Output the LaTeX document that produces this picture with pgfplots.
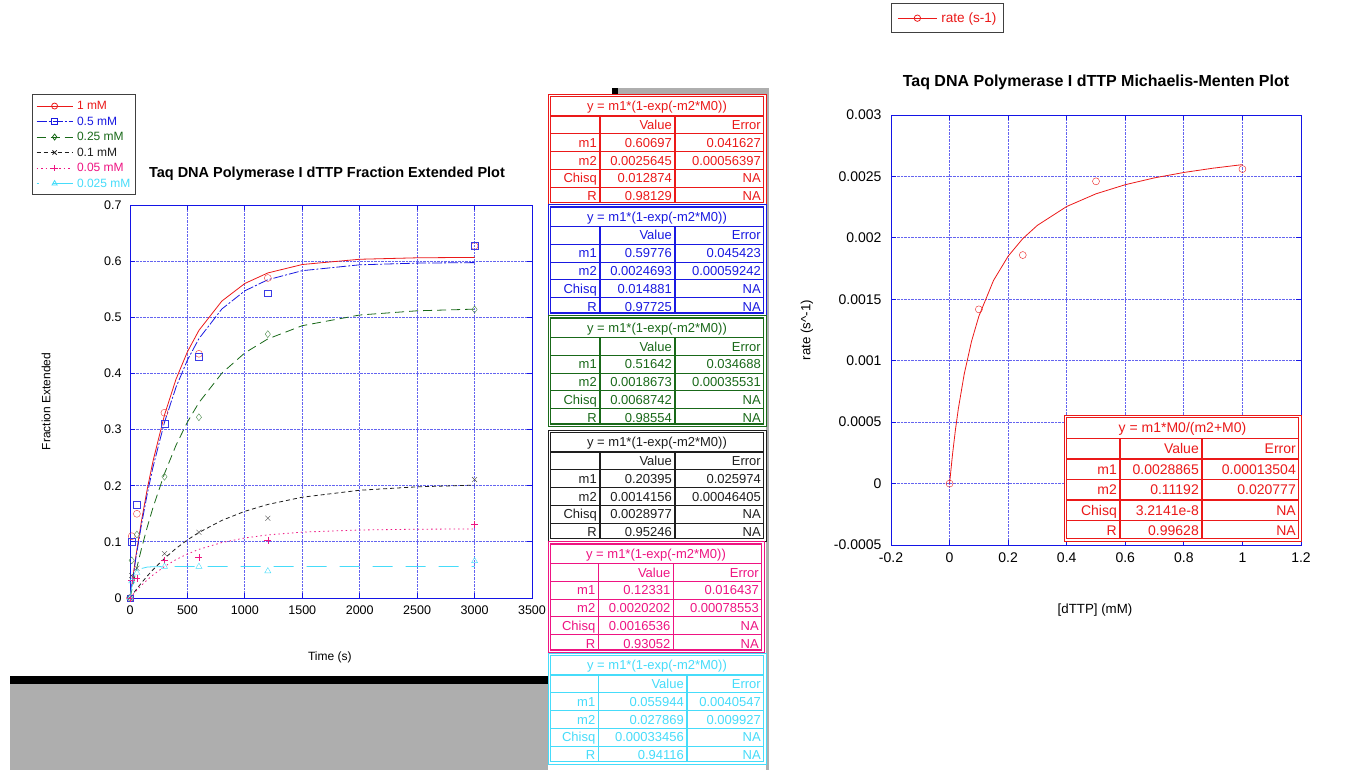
\documentclass[border=0pt]{standalone}
\usepackage{pgfplots}
\pgfplotsset{compat=1.18}
\usepackage{fontspec}
\setmainfont{Liberation Sans}
\definecolor{cRed}{RGB}{235,25,25}
\definecolor{cBlue}{RGB}{25,25,225}
\definecolor{cGreen}{RGB}{25,105,25}
\definecolor{cBlack}{RGB}{30,30,30}
\definecolor{cPink}{RGB}{238,20,130}
\definecolor{cCyan}{RGB}{70,220,250}
\definecolor{gridblue}{RGB}{100,100,240}
\definecolor{axblue}{RGB}{20,20,230}
\definecolor{winGray}{RGB}{174,174,174}
\newcommand{\fs}[1]{\fontsize{#1}{#1}\selectfont}
\pgfplotsset{
  legL/.style={legend image code/.code={\draw[mark repeat=2,mark phase=2,##1] plot coordinates {(0pt,0pt) (18pt,0pt) (36pt,0pt)};}},
  legR/.style={legend image code/.code={\draw[mark repeat=2,mark phase=2,##1] plot coordinates {(0pt,0pt) (19.5pt,0pt) (39pt,0pt)};}},
  myaxis/.style={scale only axis, clip mode=individual,
    grid=major, major grid style={gridblue, densely dotted, line width=0.8pt},
    axis line style={axblue, line width=0.9pt},
    tick style={axblue, line width=0.9pt}, tick align=inside, major tick length=5pt,
    scaled y ticks=false, scaled x ticks=false},
}
% table geometry
\def\xa{548}\def\xb{600}\def\xc{675}\def\xd{766}
\def\tth{22}\def\trh{17.8}\def\tabh{111}\def\bl{4.6}
\def\tabfont{\fs{13}}
\newcommand{\trow}[5]{%
  \node[#1,anchor=base east,inner sep=0,font=\tabfont] at ({\xb-3},{#2+\bl}) {#3};
  \node[#1,anchor=base east,inner sep=0,font=\tabfont] at ({\xc-3},{#2+\bl}) {#4};
  \node[#1,anchor=base east,inner sep=0,font=\tabfont] at ({\xd-5},{#2+\bl}) {#5};}
\newcommand{\fittab}[9]{%
  \fill[white] (\xa,#2) rectangle (\xd,{#2+\tabh});
  \draw[#1,line width=0.6pt] (\xa,#2) rectangle (\xd,{#2+\tabh});
  \draw[#1,line width=1.1pt] ({\xa+2.5},{#2+2.5}) rectangle ({\xd-2.5},{#2+\tabh-2.5});
  \foreach \k in {0,1,2,3,4} {\draw[#1,line width=1.1pt] ({\xa+2.5},{#2+\tth+\k*\trh}) -- ({\xd-2.5},{#2+\tth+\k*\trh});}
  \draw[#1,line width=1.1pt] (\xb,{#2+\tth}) -- (\xb,{#2+\tabh-2.5});
  \draw[#1,line width=1.1pt] (\xc,{#2+\tth}) -- (\xc,{#2+\tabh-2.5});
  \node[#1,anchor=base,inner sep=0,font=\tabfont] at ({(\xa+\xd)/2},{#2+\tth/2+1+\bl}) {#3};
  \trow{#1}{#2+\tth+0.5*\trh}{}{Value}{Error}
  \trow{#1}{#2+\tth+1.5*\trh}{m1}{#4}{#5}
  \trow{#1}{#2+\tth+2.5*\trh}{m2}{#6}{#7}
  \trow{#1}{#2+\tth+3.5*\trh}{Chisq}{#8}{NA}
  \trow{#1}{#2+\tth+4.5*\trh}{R}{#9}{NA}}
\begin{document}
\begin{tikzpicture}
\useasboundingbox (0,0) rectangle (1353pt,-770pt);
\begin{scope}[x=1pt,y=-1pt]
  \fill[winGray] (10,684) rectangle (548,770);
  \fill[black] (10,676) rectangle (548,684);
  \fill[winGray] (618,88) rectangle (768,94);
  \fill[black] (612,88) rectangle (618,94);
  \fill[winGray] (765.5,88) rectangle (768.5,770);
\end{scope}
% ---------------- left axis
\begin{axis}[myaxis, legL,
  at={(130pt,-598pt)}, anchor=south west, width=402pt, height=393pt,
  xmin=0, xmax=3500, ymin=0, ymax=0.7,
  xtick={0,500,1000,1500,2000,2500,3000,3500},
  xticklabels={0,500,1000,1500,2000,2500,3000,3500},
  ytick={0,0.1,0.2,0.3,0.4,0.5,0.6,0.7},
  yticklabels={0,0.1,0.2,0.3,0.4,0.5,0.6,0.7},
  ticklabel style={font=\fs{12.5}, black},
  yticklabel style={xshift=-5pt}, xticklabel style={yshift=-4pt},
  xlabel={Time (s)}, ylabel={Fraction Extended},
  xlabel style={at={(axis description cs:0.497,-0.150)}, anchor=center, font=\fs{12}},
  ylabel style={at={(axis description cs:-0.209,0.5)}, anchor=center, font=\fs{12}},
  title={Taq DNA Polymerase I dTTP Fraction Extended Plot},
  title style={at={(axis description cs:0.49,1.063)}, anchor=center, font=\bfseries\fs{14.5}},
  legend style={at={(axis description cs:-0.2445,1.2817)}, anchor=north west,
    draw=black!75, line width=1pt, fill=white, inner xsep=4pt, inner ysep=3.5pt,
    font=\fs{12}, nodes={inner sep=1pt, text height=10.2pt, text depth=3.3pt}, row sep=0pt, column sep=3pt},
  legend cell align=left,
]
\addlegendimage{cRed, line width=0.8pt, mark=o, mark size=3pt, mark options={solid}}
\addlegendentry{\textcolor{cRed}{1 mM}}
\addlegendimage{cBlue, line width=0.8pt, dash pattern=on 10pt off 2pt on 2pt off 2pt, mark=square, mark size=3pt, mark options={solid}}
\addlegendentry{\textcolor{cBlue}{0.5 mM}}
\addlegendimage{cGreen, line width=0.8pt, dash pattern=on 9pt off 5pt, mark=diamond, mark size=3pt, mark options={solid}}
\addlegendentry{\textcolor{cGreen}{0.25 mM}}
\addlegendimage{cBlack, line width=0.8pt, dash pattern=on 4pt off 3pt, mark=x, mark size=3pt, mark options={solid}}
\addlegendentry{\textcolor{cBlack}{0.1 mM}}
\addlegendimage{cPink, line width=0.8pt, dash pattern=on 1.5pt off 3pt, mark=+, mark size=3pt, mark options={solid}}
\addlegendentry{\textcolor{cPink}{0.05 mM}}
\addlegendimage{cCyan, line width=0.8pt, dash pattern=on 2pt off 14pt on 20pt off 2pt, mark=triangle, mark size=3pt, mark options={solid}}
\addlegendentry{\textcolor{cCyan}{0.025 mM}}
% fit curves
\addplot[forget plot, cRed, line width=0.8pt] coordinates {(0,0) (50,0.07304) (100,0.13731) (150,0.19383) (200,0.24355) (300,0.32575) (400,0.38938) (500,0.43860) (600,0.47668) (800,0.52896) (1000,0.56026) (1200,0.57900) (1500,0.59401) (2000,0.60337) (2500,0.60597) (3000,0.60669)};
\addplot[forget plot, cBlue, line width=0.8pt, dash pattern=on 10pt off 2pt on 2pt off 2pt] coordinates {(0,0) (50,0.06942) (100,0.13080) (150,0.18504) (200,0.23298) (300,0.31279) (400,0.37515) (500,0.42386) (600,0.46191) (800,0.51485) (1000,0.54717) (1200,0.56689) (1500,0.58304) (2000,0.59348) (2500,0.59651) (3000,0.59740)};
\addplot[forget plot, cGreen, line width=0.8pt, dash pattern=on 9pt off 5pt] coordinates {(0,0) (50,0.04603) (100,0.08796) (150,0.12617) (200,0.16095) (300,0.22149) (400,0.27173) (500,0.31340) (600,0.34798) (800,0.40048) (1000,0.43661) (1200,0.46148) (1500,0.48505) (2000,0.50409) (2500,0.51157) (3000,0.51451)};
\addplot[forget plot, cBlack, line width=0.8pt, dash pattern=on 4pt off 3pt] coordinates {(0,0) (50,0.01394) (100,0.02692) (150,0.03902) (200,0.05029) (300,0.07057) (400,0.08818) (500,0.10346) (600,0.11673) (800,0.13823) (1000,0.15444) (1200,0.16664) (1500,0.17955) (2000,0.19193) (2500,0.19803) (3000,0.20103)};
\addplot[forget plot, cPink, line width=0.8pt, dash pattern=on 1.5pt off 3pt] coordinates {(0,0) (50,0.01185) (100,0.02255) (150,0.03223) (200,0.04098) (300,0.05605) (400,0.06835) (500,0.07840) (600,0.08662) (800,0.09881) (1000,0.10696) (1200,0.11239) (1500,0.11735) (2000,0.12114) (2500,0.12252) (3000,0.12302)};
\addplot[forget plot, cCyan, line width=0.8pt, dash pattern=on 20pt off 13pt] coordinates {(0,0) (15,0.01911) (30,0.03170) (50,0.04206) (60,0.04544) (100,0.05250) (150,0.05509) (200,0.05573) (300,0.05594) (600,0.05594) (1200,0.05594) (3000,0.05594)};
% data
\addplot[forget plot, only marks, cRed!85, mark=o, mark size=3.5pt] coordinates {(0,0) (15,0.110) (60,0.150) (300,0.330) (600,0.435) (1200,0.570) (3000,0.627)};
\addplot[forget plot, only marks, cBlue!85, mark=square, mark size=3.3pt] coordinates {(0,0) (15,0.100) (60,0.166) (300,0.310) (600,0.430) (1200,0.543) (3000,0.628)};
\addplot[forget plot, only marks, cGreen!80, mark=diamond, mark size=3.5pt] coordinates {(0,0) (15,0.067) (60,0.113) (300,0.216) (600,0.322) (1200,0.470) (3000,0.514)};
\addplot[forget plot, only marks, cBlack!80, mark=x, mark size=3.5pt] coordinates {(0,0) (15,0.040) (60,0.053) (300,0.079) (600,0.117) (1200,0.142) (3000,0.211)};
\addplot[forget plot, only marks, cPink, mark=+, mark size=3.5pt] coordinates {(0,0) (15,0.032) (60,0.035) (300,0.067) (600,0.072) (1200,0.103) (3000,0.131)};
\addplot[forget plot, only marks, cCyan, mark=triangle, mark size=3.5pt] coordinates {(0,0) (15,0.030) (60,0.045) (300,0.056) (600,0.056) (1200,0.048) (3000,0.066)};
\end{axis}
% ---------------- right axis
\begin{axis}[myaxis, legR,
  at={(891pt,-545pt)}, anchor=south west, width=410pt, height=430pt,
  xmin=-0.2, xmax=1.2, ymin=-0.0005, ymax=0.003,
  xtick={-0.2,0,0.2,0.4,0.6,0.8,1,1.2},
  xticklabels={-0.2,0,0.2,0.4,0.6,0.8,1,1.2},
  ytick={-0.0005,0,0.0005,0.001,0.0015,0.002,0.0025,0.003},
  yticklabels={-0.0005,0,0.0005,0.001,0.0015,0.002,0.0025,0.003},
  ticklabel style={font=\fs{14}, black},
  yticklabel style={xshift=-6pt}, xticklabel style={yshift=-4pt},
  xlabel={[dTTP] (mM)}, ylabel={rate (s\textasciicircum-1)},
  xlabel style={at={(axis description cs:0.4976,-0.151)}, anchor=center, font=\fs{13.3}},
  ylabel style={at={(axis description cs:-0.205,0.5)}, anchor=center, font=\fs{13.3}},
  title={Taq DNA Polymerase I dTTP Michaelis-Menten Plot},
  title style={at={(axis description cs:0.5,1.0628)}, anchor=center, font=\bfseries\fs{16}},
  legend style={at={(axis description cs:0,1.2605)}, anchor=north west,
    draw=black!75, line width=1pt, fill=white, inner xsep=6pt, inner ysep=8pt,
    font=\fs{13.6}, nodes={inner sep=1pt}, column sep=3pt},
]
\addlegendimage{cRed, line width=0.8pt, mark=o, mark size=3.2pt, mark options={solid}}
\addlegendentry{\textcolor{cRed}{rate (s-1)}}
\addplot[forget plot, cRed, line width=0.8pt] coordinates {(0,0) (0.01,0.00023676) (0.02,0.00043762) (0.03,0.00061017) (0.05,0.00089134) (0.075,0.0011582) (0.1,0.0013621) (0.15,0.0016531) (0.2,0.0018508) (0.25,0.0019939) (0.3,0.0021022) (0.4,0.0022554) (0.5,0.0023586) (0.6,0.0024327) (0.7,0.0024886) (0.8,0.0025322) (0.9,0.0025673) (1.0,0.0025960)};
\addplot[forget plot, only marks, cRed, mark=o, mark size=3.5pt] coordinates {(0,0) (0.1,0.001418) (0.25,0.00186) (0.5,0.00246) (1,0.00256)};
\end{axis}
% ---------------- tables
\begin{scope}[x=1pt,y=-1pt]
  \fittab{cRed}{94}{y = m1*(1-exp(-m2*M0))}{0.60697}{0.041627}{0.0025645}{0.00056397}{0.012874}{0.98129}
  \fittab{cBlue}{204.5}{y = m1*(1-exp(-m2*M0))}{0.59776}{0.045423}{0.0024693}{0.00059242}{0.014881}{0.97725}
  \fittab{cGreen}{315.5}{y = m1*(1-exp(-m2*M0))}{0.51642}{0.034688}{0.0018673}{0.00035531}{0.0068742}{0.98554}
  \fittab{cBlack}{430}{y = m1*(1-exp(-m2*M0))}{0.20395}{0.025974}{0.0014156}{0.00046405}{0.0028977}{0.95246}
  \def\xb{598.5}\def\xc{673.5}\def\xd{764}
  \fittab{cPink}{541.5}{y = m1*(1-exp(-m2*M0))}{0.12331}{0.016437}{0.0020202}{0.00078553}{0.0016536}{0.93052}
  \def\xb{598.5}\def\xc{687}\def\xd{766}
  \fittab{cCyan}{653}{y = m1*(1-exp(-m2*M0))}{0.055944}{0.0040547}{0.027869}{0.009927}{0.00033456}{0.94116}
  \def\xa{1064}\def\xb{1120}\def\xc{1202}\def\xd{1301}
  \def\tth{23.5}\def\trh{20.5}\def\tabh{126}\def\bl{5}\def\tabfont{\fs{14}}
  \fittab{cRed}{415}{y = m1*M0/(m2+M0)}{0.0028865}{0.00013504}{0.11192}{0.020777}{3.2141e-8}{0.99628}
\end{scope}
\end{tikzpicture}
\end{document}
